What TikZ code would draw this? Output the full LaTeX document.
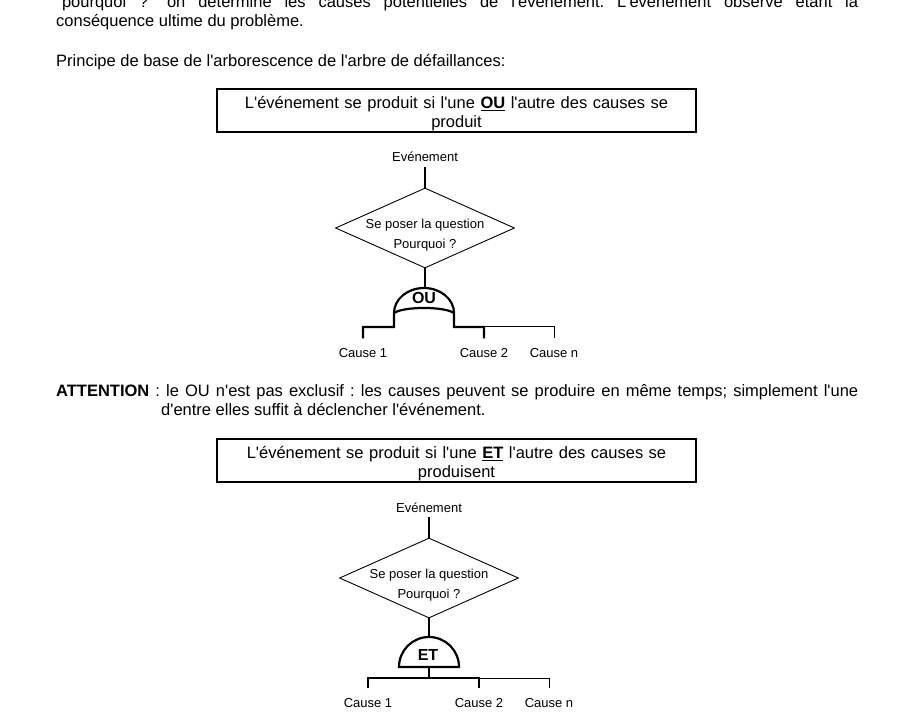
\documentclass[tikz,border=0pt]{standalone}
\usepackage{fontspec}
\setmainfont{Liberation Sans}[Ligatures=TeXOff]
\usetikzlibrary{shapes.geometric}

\newcommand{\txtbody}{\fontsize{16.5}{19}\selectfont}
\newcommand{\txtsmall}{\fontsize{13}{19.5}\selectfont}
\newcommand{\txtgate}{\fontsize{16}{18}\selectfont\bfseries}

\begin{document}
\frenchspacing
\begin{tikzpicture}[x=1pt, y=-1pt,
    para/.style={anchor=base west, inner sep=0pt, text width=802pt, align=justify, font=\txtbody},
    rulebox/.style={draw, line width=1.2pt, inner sep=0pt, text height=19.5pt, text depth=23.5pt, text width=479pt, align=center, font=\txtbody},
    question/.style={diamond, draw, line width=0.9pt, minimum width=179pt, minimum height=80pt, inner sep=0pt},
    event/.style={anchor=base, inner sep=0pt, outer ysep=5pt, font=\txtsmall},
    cause/.style={anchor=base, inner sep=0pt, outer ysep=10pt, font=\txtsmall},
    gatelabel/.style={inner sep=0pt, font=\txtgate},
    thickline/.style={line width=2.2pt},
    thinline/.style={line width=1pt}]
        \useasboundingbox (0,0) rectangle (897,719);

        % Text above
        \node[para] (intro) at (56,8) {"pourquoi ?" on détermine les causes potentielles de l'événement. L'événement observé étant la\linebreak conséquence ultime du problème.};
        \node[anchor=base west, inner sep=0pt, font=\txtbody] (principe) at (56,67) {Principe de base de l'arborescence de l'arbre de défaillances:};

        % OU
        \node[rulebox] (ruleou) at (456.5,110.5) {L'événement se produit si l'une \underline{\textbf{OU}} l'autre des causes se\\produit};
        \node[event] (evt1) at (425,162) {Evénement};
        \node[question, label={[font=\txtsmall, align=center, yshift=-7pt]center:Se poser la question\\Pourquoi ?}] (q1) at (425,228) {};
        \coordinate (or1) at (425,288);
        \node[gatelabel] (ou) at (424,298) {OU};
        \node[cause] (c11) at (363,357.5) {Cause 1};
        \node[cause] (c12) at (484,357.5) {Cause 2};
        \node[cause] (c1n) at (554,357.5) {Cause n};

        \draw[thickline] (evt1.south) -- (q1.north);
        \draw[thickline] (q1.south) -- (or1);
        \draw[thickline] (c11.north) |- (394,327) -- (394,313) arc[start angle=180, end angle=360, x radius=30, y radius=25] -- (454,327) -| (c12.north);
        \draw[thickline] (394,313) .. controls (404,306.3) and (444,306.3) .. (454,313);
        \draw[thinline] (484,327) -| (c1n.north);

        % ATTENTION
        \node[para] (attention) at (56,396) {\hangindent=105pt \hangafter=1 \textbf{ATTENTION} : le OU n'est pas exclusif : les causes peuvent se produire en même temps; simplement l'une\linebreak d'entre elles suffit à déclencher l'événement.\par};

        % ET
        \node[rulebox] (ruleet) at (456.5,460.5) {L'événement se produit si l'une \underline{\textbf{ET}} l'autre des causes se\\produisent};
        \node[event] (evt2) at (429,512) {Evénement};
        \node[question, label={[font=\txtsmall, align=center, yshift=-7pt]center:Se poser la question\\Pourquoi ?}] (q2) at (429,578) {};
        \coordinate (and2) at (429,637);
        \node[gatelabel] (et) at (428,655) {ET};
        \node[cause] (c21) at (368,707.5) {Cause 1};
        \node[cause] (c22) at (479,707.5) {Cause 2};
        \node[cause] (c2n) at (549,707.5) {Cause n};

        \draw[thickline] (evt2.south) -- (q2.north);
        \draw[thickline] (q2.south) -- (and2);
        \draw[thickline] (399,667) arc[start angle=180, end angle=360, radius=30] -- cycle;
        \draw[thickline] (429,667) -- (429,678);
        \draw[thickline] (c21.north) |- (479,678) -- (c22.north);
        \draw[thinline] (479,678) -| (c2n.north);
    \end{tikzpicture}
\end{document}
